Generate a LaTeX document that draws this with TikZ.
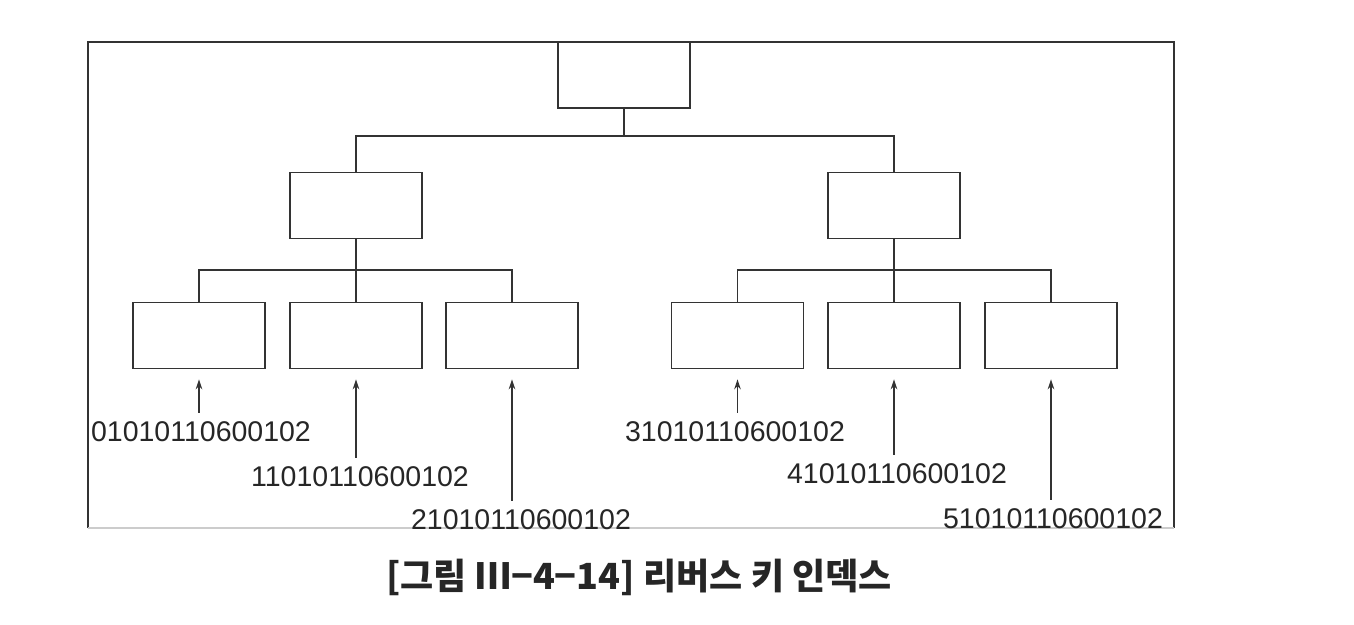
\documentclass[tikz,border=0pt]{standalone}
\usepackage{fontspec}
\setmainfont{Liberation Sans}
\newfontfamily\cjk{Noto Sans CJK KR}
\usepackage{tikz}
\usetikzlibrary{arrows.meta, positioning, calc}

\tikzset{
    keybox/.style={draw=black!80, line width=1.5pt, minimum width=132pt, minimum height=66pt, inner sep=0pt},
    treeline/.style={draw=black!80, line width=1.5pt},
    keylabel/.style={inner sep=0pt, font=\fontsize{28.5}{30}\selectfont, text=black!85},
    keyarrow/.style={-{Stealth[length=10pt,width=6.5pt]}, line width=1.3pt, black!80, shorten <=9pt, shorten >=10pt}
}

\begin{document}
\begin{tikzpicture}[x=1pt, y=-1pt]
    \useasboundingbox (0,0) rectangle (1354,624);

    % Frame
    \draw[treeline] (88,528) -- (88,42) -- (1174,42) -- (1174,528);
    \draw[gray!40, line width=1.2pt] (88,528) -- (1174,528);

    % Index blocks
    \node[keybox] (root) at (624,75) {};
    \node[keybox] (mid1) at (356,205.5) {};
    \node[keybox] (mid2) at (894,205.5) {};
    \foreach \x/\name in {199/leaf0, 356/leaf1, 512/leaf2, 737.5/leaf3, 894/leaf4, 1051/leaf5}
        \node[keybox] (\name) at (\x,335.5) {};

    % Branches
    \coordinate (bus0) at (624,136);
    \coordinate (bus1) at (356,270);
    \coordinate (bus2) at (894,270);
    \draw[treeline] (root.south) -- (bus0);
    \draw[treeline] (mid1.north) |- (bus0) -| (mid2.north);
    \draw[treeline] (mid1.south) -- (leaf1.north);
    \draw[treeline] (leaf0.north) |- (bus1) -| (leaf2.north);
    \draw[treeline] (mid2.south) -- (leaf4.north);
    \draw[treeline] (leaf3.north) |- (bus2) -| (leaf5.north);

    % Reversed keys
    \foreach \name/\x/\y/\key in {key0/201/432/01010110600102, key1/360/477/11010110600102, key2/521/520/21010110600102,
                                  key3/735/432/31010110600102, key4/897/474/41010110600102, key5/1053/519/51010110600102}
        \node[keylabel] (\name) at (\x,\y) {\key};
    \foreach \k/\l in {key0/leaf0, key1/leaf1, key2/leaf2, key3/leaf3, key4/leaf4, key5/leaf5}
        \draw[keyarrow] (\l.south |- \k.north) -- (\l.south);

    % Caption
    \node[font=\cjk\bfseries\fontsize{36}{40}\selectfont, text=black!85] (caption) at (639,577) {[그림 Ⅲ−4−14] 리버스 키 인덱스};
\end{tikzpicture}
\end{document}
